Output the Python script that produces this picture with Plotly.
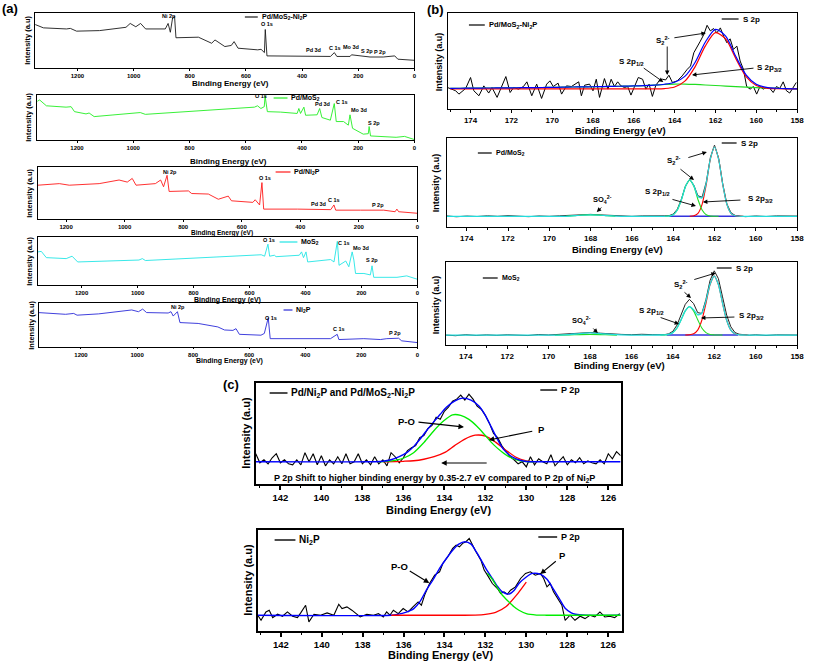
import plotly.graph_objects as go

W, H = 813, 662
FONT = "Liberation Sans, Arial, sans-serif"

# ================= DATA =================
# ---- (a) survey spectra: binding energy (eV) / intensity (a.u.)
a1_E = [1350, 1321, 1239, 1225, 1203, 1121, 1027, 1012, 992, 975, 957, 887, 877, 869, 861, 854, 849, 793, 769, 722,
        710, 675, 652, 642, 628, 558, 546, 534, 531, 525, 417, 299, 285, 276, 229, 224, 158, 111, 70, 59, 0]
a1_I = [79, 73, 71, 72, 67, 68, 74, 81, 75, 81, 71, 71, 81, 65, 91, 94, 55, 56, 56, 45,
        51, 39, 41, 48, 36, 33, 34, 28, 70, 22, 22, 21, 28, 21, 21, 24, 20, 20, 22, 16, 14]

a2_E = [1344, 1333, 1309, 1239, 1221, 1209, 1168, 1157, 1139, 1004, 975, 957, 769, 652, 569, 558, 546, 534, 531, 523,
        476, 417, 411, 405, 393, 387, 346, 337, 329, 299, 285, 278, 252, 235, 229, 220, 182, 164, 161, 156, 65, 35, 0]
a2_I = [85, 89, 76, 73, 74, 63, 58, 60, 52, 59, 61, 57, 65, 70, 73, 76, 70, 74, 98, 63,
        62, 59, 70, 59, 73, 55, 56, 70, 50, 44, 81, 41, 41, 33, 56, 26, 13, 14, 30, 9, 6, 8, 1]

a3_E = [1296, 1223, 1189, 1087, 1019, 991, 974, 961, 895, 877, 867, 855, 848, 782, 771, 714, 680, 646, 635, 562,
        554, 539, 531, 525, 409, 296, 285, 279, 194, 138, 115, 76, 70, 64, 0]
a3_I = [65, 68, 65, 68, 75, 71, 78, 65, 68, 75, 62, 84, 53, 54, 49, 48, 38, 44, 35, 32,
        37, 27, 70, 19, 19, 18, 27, 17, 17, 16, 17, 14, 19, 14, 11]

a4_E = [1356, 1344, 1326, 1255, 1234, 1214, 995, 983, 972, 782, 558, 546, 534, 528, 511, 505, 451, 422, 414, 407,
        398, 392, 310, 298, 286, 280, 256, 245, 233, 227, 221, 191, 168, 162, 156, 73, 38, 0]
a4_I = [69, 70, 57, 55, 60, 48, 52, 55, 51, 57, 63, 60, 85, 60, 62, 59, 60, 62, 69, 57,
        69, 48, 53, 48, 91, 41, 50, 38, 69, 52, 24, 24, 21, 40, 16, 16, 19, 12]

a5_E = [1352, 1255, 1226, 1214, 1137, 1019, 995, 980, 966, 889, 879, 871, 856, 847, 782, 712, 688, 658, 647, 635,
        558, 546, 532, 525, 310, 286, 280, 191, 132, 109, 67, 56, 0]
a5_I = [78, 74, 76, 72, 75, 84, 80, 86, 78, 77, 80, 70, 80, 55, 53, 45, 38, 37, 41, 28,
        26, 30, 66, 18, 18, 28, 16, 18, 16, 18, 19, 13, 9]

# ---- (b1) S 2p, Pd/MoS2-Ni2P
b1_E = [175.13, 174.73, 174.57, 174.24, 174.00, 173.84, 173.59, 173.35, 173.11, 172.95,
        172.70, 172.46, 172.27, 172.06, 171.89, 171.65, 171.41, 171.24, 171.00, 170.76,
        170.52, 170.27, 170.11, 169.95, 169.71, 169.54, 169.30, 169.06, 168.89, 168.70,
        168.57, 168.41, 168.17, 168.00, 167.84, 167.68, 167.44, 167.27, 167.11, 166.95,
        166.79, 166.63, 166.46, 166.30, 166.14, 165.98, 165.78, 165.57, 165.41, 165.25,
        165.09, 164.92, 164.76, 164.60, 164.44, 164.28, 164.11, 163.87, 163.63, 163.38,
        163.22, 163.06, 162.90, 162.74, 162.57, 162.41, 162.25, 162.09, 161.93, 161.76,
        161.60, 161.44, 161.28, 161.12, 160.95, 160.79, 160.63, 160.47, 160.30, 160.14,
        159.98, 159.82, 159.66, 159.49, 159.33, 159.17, 159.01, 158.85, 158.68, 158.52,
        158.36, 158.20, 158.04]
b1_I = [22.4, 19.0, 15.5, 21.4, 32.8, 19.0, 13.8, 24.1, 16.6, 22.4,
        12.1, 23.4, 33.8, 17.2, 22.4, 20.7, 23.4, 28.3, 13.8, 25.9,
        11.0, 25.9, 29.3, 23.4, 26.9, 15.5, 24.1, 23.4, 25.9, 28.3,
        13.8, 24.8, 25.9, 19.0, 31.0, 12.1, 31.7, 20.7, 31.0, 23.4,
        28.3, 24.1, 22.4, 23.4, 14.5, 22.4, 32.8, 31.0, 20.7, 25.9,
        13.1, 24.8, 29.3, 31.0, 30.3, 35.2, 27.6, 29.3, 34.5, 41.4,
        44.8, 58.6, 65.5, 70.7, 77.6, 87.2, 81.4, 83.8, 79.3, 84.5,
        75.9, 69.0, 73.1, 62.1, 65.5, 50.0, 41.4, 23.4, 20.7, 23.4,
        15.5, 23.4, 20.7, 22.4, 21.4, 17.2, 23.4, 21.4, 28.3, 19.0,
        16.6, 22.4, 27.6]
b1_fitE = [175, 174.5, 174, 173.5, 173, 172.5, 172, 171.5, 171, 170.5,
           170, 169.5, 169, 168.5, 168, 167.5, 167, 166.5, 166, 165.5,
           165, 164.5, 164, 163.5, 163, 162.5, 162, 161.5, 161, 160.5,
           160, 159.5, 159, 158.5, 158]
b1_red = [21, 21, 21, 21, 21, 21, 21, 21, 21, 21,
          21, 21, 21, 21, 21, 21, 21, 21, 21, 21,
          21.0, 21.3, 22.9, 29.0, 43.9, 65.5, 79.5, 73.0, 52.3, 33.8,
          24.5, 21.7, 21.1, 21, 21]
b1_green = [21.5, 21.6, 21.7, 21.8, 21.9, 22.0, 22.1, 22.2, 22.3, 22.4,
            22.5, 22.7, 22.9, 23.0, 23.2, 23.4, 23.6, 23.8, 24.0, 24.4,
            24.9, 25.5, 26.0, 26.0, 25.6, 25.0, 24.5, 23.9, 23.3, 22.7,
            22.2, 21.8, 21.5, 21.2, 21.0]
b1_blue = [21.5, 21.6, 21.7, 21.8, 21.9, 22.0, 22.1, 22.2, 22.3, 22.4,
           22.5, 22.7, 22.9, 23.0, 23.2, 23.4, 23.6, 23.8, 24.0, 24.4,
           24.9, 25.8, 27.9, 34.0, 48.5, 69.5, 83.0, 75.9, 54.6, 35.5,
           25.7, 22.5, 21.6, 21.2, 21.0]

# ---- (b2) S 2p, Pd/MoS2
b2_E = [175, 174.5, 174, 173.5, 173, 172.5, 172, 171.5, 171, 170.5,
        170, 169.5, 169, 168.5, 168, 167.5, 167, 166.5, 166, 165.5,
        165, 164.6, 164.4, 164.2, 164.0, 163.8, 163.6, 163.4, 163.2, 163.0,
        162.8, 162.6, 162.4, 162.2, 162.0, 161.8, 161.6, 161.4, 161.2, 161.0,
        160.8, 160.5, 160, 159.5, 159, 158.5, 158]
b2_I = [12.5, 11.5, 12.3, 11.8, 12.6, 12.0, 12.8, 12.2, 11.6, 12.4,
        12.0, 12.6, 13.0, 13.8, 14.2, 13.6, 13.0, 12.4, 12.0, 12.5,
        12.2, 12.6, 12.6, 12.8, 14.5, 20.0, 31.5, 46.5, 53.5, 47.0,
        35.0, 33.5, 50.5, 78.0, 92.0, 77.5, 48.5, 26.0, 16.0, 13.0,
        12.2, 11.6, 12.4, 11.8, 12.5, 12.0, 12.3]
b2_envE = [175, 169.5, 169, 168.5, 168, 167.5, 167, 166.5, 164.6, 164.4,
           164.2, 164.0, 163.8, 163.6, 163.4, 163.2, 163.0, 162.8, 162.6, 162.4,
           162.2, 162.0, 161.8, 161.6, 161.4, 161.2, 161.0, 160.8, 160.6, 158]
b2_env = [12, 12, 12.3, 13.2, 13.6, 13.2, 12.4, 12, 12, 12.04,
          12.3, 13.8, 19.1, 30.8, 45.8, 53.07, 46.3, 34.2, 32.6, 49.5,
          76.5, 90.04, 76.2, 47.7, 25.5, 15.4, 12.6, 12.07, 12, 12]
b2_greenE = [169.2, 168.8, 168.4, 168, 167.6, 167.2, 166.8, None,
             164.4, 164.2, 164.0, 163.8, 163.6, 163.4, 163.2, 163.0, 162.8, 162.6,
             162.4, 162.2, 162.0, 161.8]
b2_green = [12, 12.6, 13.3, 13.6, 13.3, 12.6, 12, None,
            12.04, 12.3, 13.8, 19.1, 30.8, 45.7, 53, 45.7, 30.8, 19.1,
            13.8, 12.3, 12.04, 12]
b2_redE = [163.2, 163.0, 162.8, 162.6, 162.4, 162.2, 162.0, 161.8, 161.6, 161.4,
           161.2, 161.0, 160.8, 160.6]
b2_red = [12.07, 12.6, 15.4, 25.5, 47.7, 76.2, 90, 76.2, 47.7, 25.5,
          15.4, 12.6, 12.07, 12]
b2_baseE = [164.2, 160.8]
b2_base = [12, 12]

# ---- (b3) S 2p, MoS2
b3_E = [175, 174.5, 174, 173.5, 173, 172.5, 172, 171.5, 171, 170.5,
        170, 169.5, 169, 168.5, 168, 167.5, 167, 166.5, 166, 165.5,
        165, 164.6, 164.4, 164.2, 164.0, 163.8, 163.6, 163.4, 163.2, 163.0,
        162.8, 162.6, 162.4, 162.2, 162.0, 161.8, 161.6, 161.4, 161.2, 161.0,
        160.8, 160.6, 160.3, 160.0, 159.5, 159.0, 158.5, 158.0]
b3_I = [12.0, 11.2, 12.4, 11.5, 12.2, 11.6, 12.3, 12.0, 11.4, 12.6,
        12.1, 12.8, 13.5, 14.5, 15.0, 14.2, 13.2, 12.8, 12.4, 12.9,
        12.5, 12.6, 12.5, 13.5, 16.5, 24, 36, 49, 55, 50,
        39, 38, 55, 78, 89.4, 80, 58, 36, 22, 15,
        13, 12.4, 11.8, 12.3, 11.5, 12.2, 11.7, 12.0]
b3_envE = [175, 169.5, 169, 168.5, 168, 167.5, 167, 166.5, 166, 164.6,
           164.4, 164.2, 164.0, 163.8, 163.6, 163.4, 163.2, 163.0, 162.8, 162.6,
           162.4, 162.2, 162.0, 161.8, 161.6, 161.4, 161.2, 161.0, 160.8, 160.6,
           160.4, 158.0]
b3_env = [12, 12, 12.6, 13.8, 14.5, 13.8, 12.8, 12.2, 12, 12.02,
          12.13, 12.7, 14.9, 20.5, 30.4, 41.14, 46.3, 42.6, 36.4, 38.3,
          53.2, 73.5, 83.1, 72.8, 50.3, 29.8, 18.0, 13.5, 12.3, 12.04,
          12, 12]
b3_greenE = [169.7, 169, 168.5, 168, 167.5, 167, 166.7, None,
             164.6, 164.4, 164.2, 164.0, 163.8, 163.6, 163.4, 163.2, 163.0, 162.8,
             162.6, 162.4, 162.2, 162.0, 161.8, 161.6]
b3_green = [11.8, 12.1, 12.5, 12.7, 12.5, 12.1, 11.8, None,
            12.02, 12.13, 12.7, 14.9, 20.5, 30.4, 41.1, 46, 41.1, 30.4,
            20.5, 14.9, 12.7, 12.13, 12.02, 12]
b3_redE = [163.4, 163.2, 163.0, 162.8, 162.6, 162.4, 162.2, 162.0, 161.8, 161.6,
           161.4, 161.2, 161.0, 160.8, 160.6, 160.4]
b3_red = [12.04, 12.3, 13.5, 18.0, 29.8, 50.3, 72.8, 83, 72.8, 50.3,
          29.8, 18.0, 13.5, 12.3, 12.04, 12]
b3_baseE = [164.3, 160.85]
b3_base = [12, 12]

# ---- (c1) P 2p, Pd/Ni2P and Pd/MoS2-Ni2P
c1_E = [143.2, 143.0, 142.8, 142.6, 142.4, 142.2, 142.0, 141.8, 141.6, 141.4,
        141.2, 141.0, 140.8, 140.6, 140.4, 140.2, 140.0, 139.8, 139.6, 139.4,
        139.2, 139.0, 138.8, 138.6, 138.4, 138.2, 138.0, 137.8, 137.6, 137.4,
        137.2, 137.0, 136.8, 136.6, 136.4, 136.2, 136.0, 135.8, 135.6, 135.4,
        135.2, 135.0, 134.8, 134.6, 134.4, 134.2, 134.0, 133.8, 133.6, 133.4,
        133.2, 133.0, 132.8, 132.6, 132.4, 132.2, 132.0, 131.8, 131.6, 131.4,
        131.2, 131.0, 130.8, 130.6, 130.4, 130.2, 130.0, 129.8, 129.6, 129.4,
        129.2, 129.0, 128.8, 128.6, 128.4, 128.2, 128.0, 127.8, 127.6, 127.4,
        127.2, 127.0, 126.8, 126.6, 126.4, 126.2, 126.0, 125.8, 125.6, 125.4]
c1_I = [30, 21, 24, 20, 26, 30, 21, 24, 20, 19,
        24, 19, 31, 22, 30, 19, 28, 18, 24, 20,
        27, 20, 30, 20, 22, 30, 20, 24, 19, 27,
        20, 24, 18, 31, 27, 21, 26, 33, 36, 38,
        46, 48, 55, 58, 66, 64, 72, 76, 82, 84,
        88, 83, 89, 84, 77, 74, 68, 60, 50, 46,
        38, 33, 27, 24, 20, 22, 17, 27, 19, 25,
        22, 20, 29, 18, 23, 27, 19, 24, 21, 26,
        20, 23, 21, 20, 24, 20, 30, 25, 32, 28]
c1_blueE = [143.2, 137.6, 137.0, 136.6, 136.2, 135.8, 135.5, 135.2, 134.9, 134.5,
            134.2, 133.9, 133.5, 133.1, 132.7, 132.3, 132.0, 131.7, 131.4, 131.1,
            130.7, 130.3, 130.0, 129.5, 125.4]
c1_blue = [22, 22, 22.5, 24, 27, 31.5, 37, 44, 52, 62,
           69, 76, 82, 85, 83, 77, 68, 56, 44, 34,
           27, 23.5, 22.3, 22, 22]
c1_greenE = [137.2, 136.8, 136.4, 136.0, 135.5, 135.0, 134.5, 134.0, 133.6, 133.2,
             132.8, 132.4, 132.0, 131.6, 131.2, 130.8, 130.4, 130.0, 129.6]
c1_green = [22, 22.5, 23.5, 25.5, 31, 41, 53, 63, 68.5, 68,
            64, 57, 48, 39, 32, 26.5, 23.5, 22.3, 22]
c1_redE = [137.0, 136.0, 135.5, 135.0, 134.5, 134.0, 133.5, 133.0, 132.5, 132.0,
           131.5, 131.0, 130.5, 130.0, 129.6]
c1_red = [22, 22.5, 23, 24.5, 27, 31, 38, 44.5, 48.3, 47.5,
          41.5, 33.5, 26.5, 23, 22]

# ---- (c2) P 2p, Ni2P
c2_E = [143.13, 142.97, 142.73, 142.57, 142.40, 142.16, 141.92, 141.68, 141.43, 141.19,
        141.03, 140.79, 140.63, 140.38, 140.06, 139.74, 139.41, 139.17, 139.01, 138.77,
        138.53, 138.28, 138.12, 137.80, 137.47, 137.23, 136.99, 136.83, 136.67, 136.50,
        136.26, 136.02, 135.78, 135.54, 135.29, 135.13, 134.97, 134.73, 134.48, 134.24,
        134.08, 133.84, 133.60, 133.43, 133.27, 133.11, 132.95, 132.79, 132.63, 132.46,
        132.22, 132.06, 131.90, 131.66, 131.41, 131.25, 131.09, 130.93, 130.77, 130.53,
        130.28, 130.04, 129.80, 129.56, 129.31, 129.15, 128.99, 128.83, 128.67, 128.42,
        128.26, 128.10, 127.86, 127.62, 127.37, 127.13, 126.89, 126.65, 126.40, 126.16,
        125.92, 125.68, 125.43]
c2_I = [15.6, 10.6, 18.9, 20.6, 13.3, 16.6, 14.6, 18.9, 14.6, 13.3,
        17.9, 25.5, 9.0, 16.6, 15.6, 17.9, 15.6, 26.5, 22.2, 23.9,
        20.6, 16.6, 13.9, 16.6, 15.6, 17.2, 13.9, 18.9, 15.6, 20.6,
        17.2, 22.2, 18.9, 23.9, 28.8, 25.5, 35.5, 47.0, 55.3, 58.6,
        66.9, 73.5, 81.8, 85.1, 83.4, 86.8, 88.4, 91.7, 85.1, 78.5,
        70.2, 60.3, 55.3, 47.0, 42.1, 37.1, 38.8, 36.4, 40.4, 43.7,
        52.0, 57.0, 58.6, 55.3, 57.0, 52.0, 43.7, 47.0, 38.8, 30.5,
        25.5, 10.6, 15.6, 10.6, 14.6, 12.3, 15.6, 13.9, 18.9, 13.9,
        14.6, 13.3, 17.2]
c2_blueE = [143.2, 136.6, 136.3, 135.9, 135.5, 135.2, 134.9, 134.55, 134.24, 133.9,
            133.6, 133.3, 133.0, 132.7, 132.45, 132.2, 131.98, 131.66, 131.4, 131.17,
            130.85, 130.6, 130.36, 130.0, 129.7, 129.3, 129.0, 128.75, 128.4, 128.1,
            127.8, 127.6, 127.1, 125.4]
c2_blue = [15.6, 15.6, 16.5, 18.5, 22.2, 29, 40, 51, 62, 72,
           80, 86, 88.4, 86, 78.5, 70, 62, 52, 44, 38.7,
           36.5, 40, 47, 53.5, 57, 56, 51.5, 44, 32.5, 22.5,
           18, 16.6, 15.6, 15.6]
c2_greenE = [131.9, 131.66, 131.4, 131.17, 130.85, 130.6, 130.36, 130.0, 129.5, 129.0,
             128.0, 127.0, 125.4]
c2_green = [57, 51, 42.5, 35.4, 28.8, 24, 20.5, 17.2, 15.8, 15.6,
            15.6, 15.6, 15.6]
c2_redE = [136.6, 133.5, 132.5, 132.0, 131.5, 131.0, 130.5, 130.0]
c2_red = [15.6, 15.6, 15.8, 16.5, 18.5, 24, 35, 48.5]

# ================= FIGURE =================
fig = go.Figure()
annotations = []
shapes = []

# panel boxes in page pixels: left, right, top, bottom, x-range, style
panels = [
    (35, 418, 13, 68, [1352, 0], 'a'),
    (37.7, 418, 95, 140, [1341, 0], 'a'),
    (38, 421, 167, 219, [1297, 0], 'a'),
    (38, 421, 237, 285, [1357, 0], 'a'),
    (39, 421, 303, 346.5, [1351, 0], 'a'),
    (452, 804, 13, 109, [175.1, 158], 'b'),
    (451, 804, 138, 227, [174.95, 158], 'b'),
    (450, 804, 262, 345, [174.95, 158], 'b'),
    (258, 626, 383, 484, [143.2, 125.4], 'c'),
    (260, 627, 530, 631, [143.13, 125.34], 'c'),
]
STY = {
    'a': dict(lw=0.9, tf=6, tl=2, dt=200, minor=None),
    'b': dict(lw=1.1, tf=8, tl=3, dt=2, minor=1),
    'c': dict(lw=1.6, tf=9.5, tl=4, dt=2, minor=1),
}

layout = dict(width=W, height=H, margin=dict(l=0, r=0, t=0, b=0),
              paper_bgcolor='white', plot_bgcolor='white', showlegend=False)

for i, (l, r, t, b, xr, st) in enumerate(panels, start=1):
    s = STY[st]
    xk = 'xaxis' if i == 1 else f'xaxis{i}'
    yk = 'yaxis' if i == 1 else f'yaxis{i}'
    xa = dict(domain=[l / W, r / W], range=xr, anchor='y' if i == 1 else f'y{i}',
              showline=True, mirror=True, linecolor='black', linewidth=s['lw'],
              ticks='outside', ticklen=s['tl'], tickwidth=s['lw'], tickcolor='black',
              dtick=s['dt'], tick0=0, showgrid=False, zeroline=False,
              tickfont=dict(family=FONT, size=s['tf'], color='black', weight='bold'))
    if s['minor']:
        xa['minor'] = dict(ticks='outside', ticklen=max(1, s['tl'] - 1.5), dtick=s['minor'],
                           tickcolor='black', tickwidth=s['lw'] * 0.8, showgrid=False)
    ya = dict(domain=[1 - b / H, 1 - t / H], range=[0, 100], anchor='x' if i == 1 else f'x{i}',
              showline=True, mirror=True, linecolor='black', linewidth=s['lw'],
              showticklabels=False, ticks='', showgrid=False, zeroline=False)
    layout[xk] = xa
    layout[yk] = ya


def add(i, x, y, color, width=1.0, spline=False, smoothing=0.8):
    line = dict(color=color, width=width)
    if spline:
        line['shape'] = 'spline'
        line['smoothing'] = smoothing
    fig.add_trace(go.Scatter(x=x, y=y, mode='lines', line=line,
                             xaxis='x' if i == 1 else f'x{i}',
                             yaxis='y' if i == 1 else f'y{i}',
                             hoverinfo='skip', connectgaps=False))


# (a) surveys
add(1, a1_E, a1_I, '#1a1a1a', 0.9)
add(2, a2_E, a2_I, '#22ee22', 0.9)
add(3, a3_E, a3_I, '#ff1a1a', 0.9)
add(4, a4_E, a4_I, '#22e5e5', 0.9)
add(5, a5_E, a5_I, '#2a2ad8', 0.9)

# (b1)
add(6, b1_E, b1_I, 'black', 1.0)
add(6, b1_fitE, b1_green, '#22dd22', 1.2, True)
add(6, b1_fitE, b1_red, '#ff0000', 1.2, True)
add(6, b1_fitE, b1_blue, '#0000ff', 1.2, True)
# (b2)
add(7, b2_E, b2_I, '#333333', 1.0)
add(7, b2_baseE, b2_base, '#3333dd', 1.5)
add(7, b2_redE, b2_red, '#ff0000', 1.1, True, 0.7)
add(7, b2_greenE, b2_green, '#22dd22', 1.1, True, 0.7)
add(7, b2_envE, b2_env, '#22dddd', 1.2, True, 0.6)
# (b3)
add(8, b3_E, b3_I, '#222222', 1.0)
add(8, b3_baseE, b3_base, '#3333dd', 1.5)
add(8, b3_redE, b3_red, '#ff0000', 1.1, True, 0.7)
add(8, b3_greenE, b3_green, '#22dd22', 1.1, True, 0.7)
add(8, b3_envE, b3_env, '#22dddd', 1.3, True, 0.6)
# (c1)
add(9, c1_E, c1_I, 'black', 1.1)
add(9, c1_redE, c1_red, '#ff0000', 1.3, True, 0.8)
add(9, c1_greenE, c1_green, '#00ee00', 1.3, True, 0.8)
add(9, c1_blueE, c1_blue, '#0000ff', 1.4, True, 0.7)
# (c2)
add(10, c2_E, c2_I, 'black', 1.1)
add(10, c2_blueE, c2_blue, '#0000ff', 1.4, True, 0.7)
add(10, c2_redE, c2_red, '#ff0000', 1.3, True, 0.7)
add(10, c2_greenE, c2_green, '#00ee00', 1.3, True, 0.7)


def txt(x, y, s, size, anchor='center', angle=0):
    annotations.append(dict(x=x / W, y=1 - y / H, xref='paper', yref='paper', text=s,
                            showarrow=False, textangle=angle, xanchor=anchor, yanchor='middle',
                            font=dict(family=FONT, size=size, color='black', weight='bold')))


def arrow(x0, y0, x1, y1, w=0.9):
    annotations.append(dict(x=x1 / W, y=1 - y1 / H, xref='paper', yref='paper', text='',
                            showarrow=True, ax=x0 - x1, ay=y0 - y1, arrowhead=2,
                            arrowsize=1, arrowwidth=w, arrowcolor='black'))


def leg(x0, x1, y, color, label, size, w=1.2):
    shapes.append(dict(type='line', xref='paper', yref='paper', x0=x0 / W, x1=x1 / W,
                       y0=1 - y / H, y1=1 - y / H, line=dict(color=color, width=w)))
    txt(x1 + 2, y, label, size, 'left')


# panel letters
txt(10, 8, '(a)', 13)
txt(439, 9, '(b)', 13)
txt(233, 384, '(c)', 13)

# (a) labels
AS = 5.5
for s, x, y in [('Ni 2p', 170, 16), ('O 1s', 269, 24), ('Pd 3d', 316, 50), ('C 1s', 338, 48),
                ('Mo 3d', 354, 47), ('S 2p', 370, 51), ('P 2p', 383, 52)]:
    txt(x, y, s, AS)
leg(247, 260, 17, '#1a1a1a', 'Pd/MoS<sub>2</sub>-Ni<sub>2</sub>P', 7)
for s, x, y in [('O 1s', 263, 96), ('Pd 3d', 325, 104), ('C 1s', 345, 102), ('Mo 3d', 362, 110),
                ('S 2p', 377, 123)]:
    txt(x, y, s, AS)
leg(276, 290, 98, '#22ee22', 'Pd/MoS<sub>2</sub>', 7)
for s, x, y in [('Ni 2p', 171, 172), ('O 1s', 267, 178), ('Pd 3d', 321, 204), ('C 1s', 337, 200),
                ('P 2p', 381, 205)]:
    txt(x, y, s, AS)
leg(278, 293, 172, '#ff1a1a', 'Pd/Ni<sub>2</sub>P', 7)
for s, x, y in [('O 1s', 271, 240), ('C 1s', 347, 243), ('Mo 3d', 364, 248), ('S 2p', 375, 260)]:
    txt(x, y, s, AS)
leg(282, 300, 242, '#22e5e5', 'MoS<sub>2</sub>', 7)
for s, x, y in [('Ni 2p', 180, 307), ('O 1s', 273, 318), ('C 1s', 342, 329), ('P 2p', 398, 333)]:
    txt(x, y, s, AS)
leg(286, 295, 310, '#2a2ad8', 'Ni<sub>2</sub>P', 7)

for x, y in [(27, 40), (28, 117), (29, 193), (29, 261), (31, 325)]:
    txt(x, y, 'Intensity (a.u)', 7.5, angle=-90)
for x, y, fs in [(233, 83, 8), (230, 162, 8), (224, 233, 6.5), (229, 300, 7), (231, 360.5, 7)]:
    txt(x, y, 'Binding Energy (eV)', fs)

# (b) labels
BS = 8
leg(473, 489, 25, 'black', 'Pd/MoS<sub>2</sub>-Ni<sub>2</sub>P', 7.5)
leg(728, 745, 19, 'black', 'S 2p', 8)
txt(669, 40, 'S<sub>2</sub><sup>2-</sup>', BS)
arrow(679, 38, 712, 33)
arrow(673, 45, 673, 75)
txt(637, 62, 'S 2p<sub>1/2</sub>', BS)
arrow(648, 67, 669, 82)
txt(776, 68, 'S 2p<sub>3/2</sub>', BS)
arrow(761, 68, 698, 75)

leg(482, 496, 153, 'black', 'Pd/MoS<sub>2</sub>', 7)
leg(728, 743, 143, 'black', 'S 2p', 8)
txt(680, 160, 'S<sub>2</sub><sup>2-</sup>', BS)
arrow(693, 158, 713, 152)
arrow(685, 168, 700, 180)
txt(663, 192, 'S 2p<sub>1/2</sub>', BS)
arrow(677, 199, 702, 206)
txt(767, 199, 'S 2p<sub>3/2</sub>', BS)
arrow(748, 200, 709, 202)
txt(608, 200, 'SO<sub>4</sub><sup>2-</sup>', 7.5)
arrow(608, 206, 602, 212)

leg(487, 502, 278, 'black', 'MoS<sub>2</sub>', 7)
leg(723, 738, 268, 'black', 'S 2p', 8)
txt(687, 284, 'S<sub>2</sub><sup>2-</sup>', BS)
arrow(699, 280, 722, 273)
arrow(689, 291, 697, 298)
txt(657, 311, 'S 2p<sub>1/2</sub>', BS)
arrow(665, 317, 685, 324)
txt(758, 316, 'S 2p<sub>3/2</sub>', BS)
arrow(742, 317, 707, 318)
txt(587, 320, 'SO<sub>4</sub><sup>2-</sup>', 7.5)
arrow(597, 327, 603, 333)

for x, y in [(443, 62), (440, 183), (440, 305)]:
    txt(x, y, 'Intensity (a.u)', 9, angle=-90)
for x, y in [(626, 130.5), (623, 249), (625, 365.5)]:
    txt(x, y, 'Binding Energy (eV)', 9.5)

# (c) labels
leg(272, 290, 393, 'black', 'Pd/Ni<sub>2</sub>P and Pd/MoS<sub>2</sub>-Ni<sub>2</sub>P', 10, 1.4)
leg(545, 562, 390, 'black', 'P 2p', 9, 1.4)
txt(410, 421, 'P-O', 9.5)
arrow(421, 422, 468, 427, 1.1)
txt(546, 429, 'P', 9.5)
arrow(538, 431, 493, 440, 1.1)
arrow(492, 463, 445, 463, 1.1)
txt(438, 478, 'P 2p Shift to higher binding energy by 0.35-2.7 eV compared to P 2p of Ni<sub>2</sub>P', 9)

leg(277, 298, 540, 'black', 'Ni<sub>2</sub>P', 10, 1.4)
leg(543, 562, 537, 'black', 'P 2p', 9, 1.4)
txt(403, 566, 'P-O', 9.5)
arrow(412, 570, 433, 583, 1.1)
txt(567, 555, 'P', 9.5)
arrow(562, 560, 545, 574, 1.1)

for x, y in [(248, 433), (250, 580)]:
    txt(x, y, 'Intensity (a.u)', 11, angle=-90)
for x, y in [(442, 510), (444, 655)]:
    txt(x, y, 'Binding Energy (eV)', 11)

layout['annotations'] = annotations
layout['shapes'] = shapes
fig.update_layout(**layout)
fig.write_html("out.html")
